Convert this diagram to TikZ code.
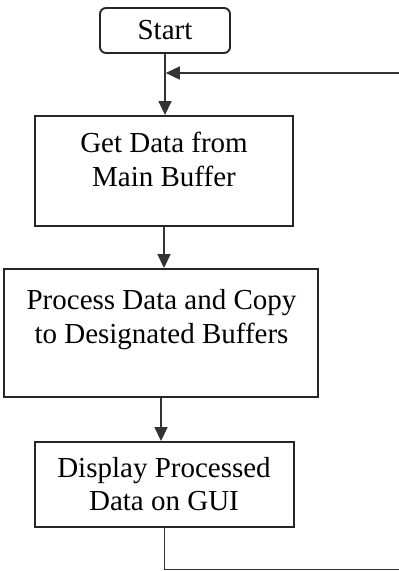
\documentclass[tikz,border=0pt]{standalone}
\usepackage{fontspec}
\setmainfont{Liberation Serif}
\usetikzlibrary{arrows.meta}
\begin{document}
\begin{tikzpicture}[x=1pt,y=-1pt,
  box/.style={draw=black!85, line width=1.9pt, inner sep=0pt, fill=white},
  txt/.style={font=\fontsize{29}{34}\selectfont, inner sep=0pt, anchor=base},
  link/.style={draw=black!80, line width=1.6pt},
  flow/.style={link, -{Triangle[width=13pt,length=14pt]}},
  ]
\useasboundingbox (0,0) rectangle (399,571);

% process boxes
\node[box, rounded corners=6pt, minimum width=130pt, minimum height=45pt,
      font=\fontsize{29}{34}\selectfont] (start) at (165,30.5) {Start};
\node[box, minimum width=258pt, minimum height=110pt] (get)  at (164,171) {};
\node[box, minimum width=314pt, minimum height=128pt] (proc) at (161,333) {};
\node[box, minimum width=259pt, minimum height=85pt]  (disp) at (164.5,484.5) {};

% box texts, one node per printed line
\node[txt] (get1)  at (164,152) {Get Data from};
\node[txt] (get2)  at (164,186) {Main Buffer};
\node[txt] (proc1) at (161.5,309) {Process Data and Copy};
\node[txt] (proc2) at (161.5,343) {to Designated Buffers};
\node[txt] (disp1) at (164,477) {Display Processed};
\node[txt] (disp2) at (164,510) {Data on GUI};

% loop ends at the right and bottom edges
\coordinate (loopT) at (399,73);
\coordinate (loopB) at (399,569.5);

% main flow
\draw[flow] (start.south) -- (start.south |- get.north);
\draw[flow] (get.south)   -- (get.south |- proc.north);
\draw[flow] (proc.south)  -- (proc.south |- disp.north);

% return path
\draw[link] (disp.south) -- (disp.south |- loopB) -- (loopB);
\draw[flow] (loopT) -- ([xshift=0.8pt]start.south |- loopT);
\end{tikzpicture}
\end{document}
